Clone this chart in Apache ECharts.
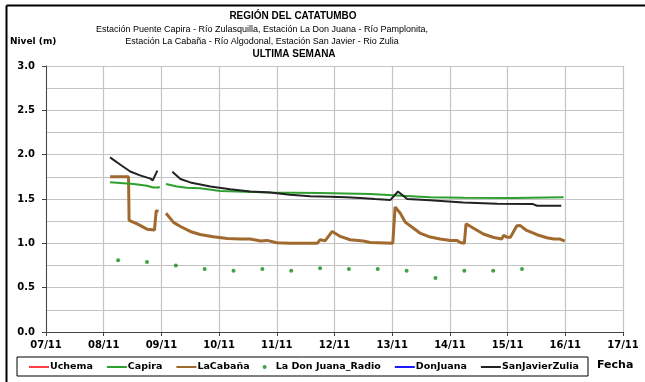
<!DOCTYPE html>
<html>
<head>
<meta charset="utf-8">
<script src="https://cdn.jsdelivr.net/npm/echarts@6/dist/echarts.min.js"></script>
<style>
  html, body { margin: 0; padding: 0; background: #fff; }
  #chart { width: 645px; height: 382px; }
</style>
</head>
<body>
<div id="chart"></div>
<script>
// Day of November (decimal) and river level (m); null breaks the line.
const capiraDays   = [8.11, 8.52, 8.75, 8.86, 8.95, 8.97, null, 9.08, 9.27, 9.44, 9.67, 10.02, 10.89, 11.75, 12.62, 13.08, 13.66, 14.24, 15.10, 15.97];
const capiraLevels = [1.69, 1.67, 1.65, 1.63, 1.63, 1.64, null, 1.67, 1.64, 1.627, 1.62, 1.59, 1.574, 1.567, 1.556, 1.54, 1.52, 1.514, 1.51, 1.52];

const cabanaDays   = [8.11, 8.43, 8.44, 8.58, 8.75, 8.88, 8.91, 8.95, null, 9.08, 9.21, 9.33, 9.50, 9.67, 9.90, 10.14, 10.37, 10.54, 10.72, 10.83, 11.00, 11.23, 11.70, 11.75, 11.84, 11.96, 12.10, 12.27, 12.50, 12.62, 13.01, 13.05, 13.14, 13.23, 13.37, 13.48, 13.66, 13.83, 14.01, 14.12, 14.18, 14.25, 14.28, 14.41, 14.58, 14.76, 14.90, 14.93, 14.99, 15.05, 15.16, 15.22, 15.33, 15.51, 15.68, 15.80, 15.91, 15.99];
const cabanaLevels = [1.75, 1.75, 1.26, 1.22, 1.16, 1.15, 1.37, 1.36, null, 1.34, 1.236, 1.19, 1.134, 1.10, 1.074, 1.055, 1.048, 1.048, 1.026, 1.033, 1.007, 1.0, 1.0, 1.04, 1.03, 1.134, 1.078, 1.04, 1.026, 1.01, 1.0, 1.41, 1.34, 1.236, 1.17, 1.116, 1.071, 1.048, 1.033, 1.033, 1.01, 1.0, 1.22, 1.17, 1.105, 1.066, 1.05, 1.09, 1.07, 1.07, 1.198, 1.2, 1.145, 1.097, 1.063, 1.048, 1.048, 1.026];

const zuliaDays   = [8.11, 8.29, 8.46, 8.63, 8.81, 8.85, 8.93, null, 9.19, 9.33, 9.50, 9.85, 10.19, 10.54, 10.89, 11.23, 11.58, 11.93, 12.20, 12.45, 12.70, 12.97, 13.10, 13.26, 13.66, 14.23, 14.82, 15.44, 15.51, 15.93];
const zuliaLevels = [1.97, 1.886, 1.81, 1.766, 1.73, 1.71, 1.82, null, 1.807, 1.725, 1.687, 1.64, 1.61, 1.585, 1.574, 1.548, 1.53, 1.525, 1.52, 1.51, 1.50, 1.49, 1.585, 1.50, 1.485, 1.46, 1.447, 1.443, 1.424, 1.424];

const radioDays   = [8.25, 8.75, 9.25, 9.75, 10.25, 10.75, 11.25, 11.75, 12.25, 12.75, 13.25, 13.75, 14.25, 14.75, 15.25];
const radioLevels = [0.81, 0.79, 0.75, 0.71, 0.69, 0.71, 0.69, 0.72, 0.71, 0.71, 0.69, 0.61, 0.69, 0.69, 0.71];

const uchemaDays = [], uchemaLevels = [];
const donJuanaDays = [], donJuanaLevels = [];

const titleLines = [
  'REGIÓN DEL CATATUMBO',
  'Estación Puente Capira - Río Zulasquilla, Estación La Don Juana - Río Pamplonita,',
  'Estación La Cabaña - Río Algodonal, Estación San Javier - Rio Zulia',
  'ULTIMA SEMANA'
];

const pairs = (xs, ys) => xs.map((x, i) => [x, ys[i]]);
const axisFont = { fontFamily: 'DejaVu Sans', fontWeight: 'bold', fontSize: 10, color: '#000' };
// legend entries for line series: line only, no marker
const lineEntry = name => ({ name, itemStyle: { opacity: 0 } });

const chart = echarts.init(document.getElementById('chart'), null, { renderer: 'canvas' });

chart.setOption({
  animation: false,
  backgroundColor: '#fff',
  grid: { left: 46, right: 22, top: 66, bottom: 50 },
  xAxis: {
    type: 'value', min: 7, max: 17, interval: 1,
    axisLine: { lineStyle: { color: '#444', width: 1 } },
    axisTick: { show: true, length: 4, lineStyle: { color: '#444' } },
    axisLabel: {
      ...axisFont, margin: 8,
      formatter: v => String(v).padStart(2, '0') + '/11'
    },
    splitLine: { show: true, lineStyle: { color: '#c4c4c4', width: 1.2 } }
  },
  yAxis: {
    type: 'value', min: 0, max: 3, interval: 0.5,
    axisLine: { show: true, lineStyle: { color: '#444', width: 1 } },
    axisTick: { show: true, length: 4, lineStyle: { color: '#444' } },
    axisLabel: { ...axisFont, margin: 11, formatter: v => v.toFixed(1) },
    splitLine: { show: true, lineStyle: { color: '#c4c4c4', width: 1.2 } },
    minorTick: { show: false, splitNumber: 2 },
    minorSplitLine: { show: true, lineStyle: { color: '#c4c4c4', width: 1.2 } }
  },
  legend: {
    left: 17, top: 357,
    padding: [5, 9, 4, 11],
    itemGap: 13,
    itemWidth: 20, itemHeight: 4,
    borderColor: '#000', borderWidth: 1,
    textStyle: { fontFamily: 'DejaVu Sans', fontWeight: 'bold', fontSize: 9.5, color: '#000', padding: [0, 0, 0, -4] },
    data: [
      lineEntry('Uchema'), lineEntry('Capira'), lineEntry('LaCabaña'),
      { name: 'La Don Juana_Radio' },
      lineEntry('DonJuana'), lineEntry('SanJavierZulia')
    ]
  },
  graphic: [
    { type: 'line', shape: { x1: 6.5, y1: 5.5, x2: 645, y2: 5.5 }, style: { stroke: '#000', lineWidth: 2 } },
    { type: 'line', shape: { x1: 6.5, y1: 5.5, x2: 6.5, y2: 382 }, style: { stroke: '#000', lineWidth: 2 } },
    { type: 'text', left: 10, top: 37, style: { text: 'Nivel (m)', font: 'bold 9px "DejaVu Sans"', fill: '#000' } },
    { type: 'text', left: 597, top: 360, style: { text: 'Fecha', font: 'bold 11px "DejaVu Sans"', fill: '#000' } },
    { type: 'text', x: 293, y: 16, style: { text: titleLines[0], font: 'bold 10px "Liberation Sans"', fill: '#000', align: 'center', verticalAlign: 'middle' } },
    { type: 'text', x: 262, y: 29.5, style: { text: titleLines[1], font: '9px "Liberation Sans"', fill: '#000', align: 'center', verticalAlign: 'middle' } },
    { type: 'text', x: 262, y: 42, style: { text: titleLines[2], font: '9px "Liberation Sans"', fill: '#000', align: 'center', verticalAlign: 'middle' } },
    { type: 'text', x: 294, y: 54.5, style: { text: titleLines[3], font: 'bold 10px "Liberation Sans"', fill: '#000', align: 'center', verticalAlign: 'middle' } }
  ],
  series: [
    { name: 'Uchema', type: 'line', symbol: 'none', data: pairs(uchemaDays, uchemaLevels),
      lineStyle: { color: '#ff4040', width: 2 }, itemStyle: { color: '#ff4040' } },
    { name: 'Capira', type: 'line', symbol: 'none', connectNulls: false, data: pairs(capiraDays, capiraLevels),
      lineStyle: { color: '#2ea02e', width: 2 }, itemStyle: { color: '#2ea02e' }, z: 3 },
    { name: 'LaCabaña', type: 'line', symbol: 'none', connectNulls: false, data: pairs(cabanaDays, cabanaLevels),
      lineStyle: { color: '#a0692e', width: 3 }, itemStyle: { color: '#a0692e' }, z: 2 },
    { name: 'La Don Juana_Radio', type: 'scatter', symbol: 'circle', symbolSize: 4, data: pairs(radioDays, radioLevels),
      itemStyle: { color: '#0f8a1a' } },
    { name: 'DonJuana', type: 'line', symbol: 'none', data: pairs(donJuanaDays, donJuanaLevels),
      lineStyle: { color: '#1a1aff', width: 2 }, itemStyle: { color: '#1a1aff' } },
    { name: 'SanJavierZulia', type: 'line', symbol: 'none', connectNulls: false, data: pairs(zuliaDays, zuliaLevels),
      lineStyle: { color: '#222222', width: 2 }, itemStyle: { color: '#222222' }, z: 4 }
  ]
});
</script>
</body>
</html>
